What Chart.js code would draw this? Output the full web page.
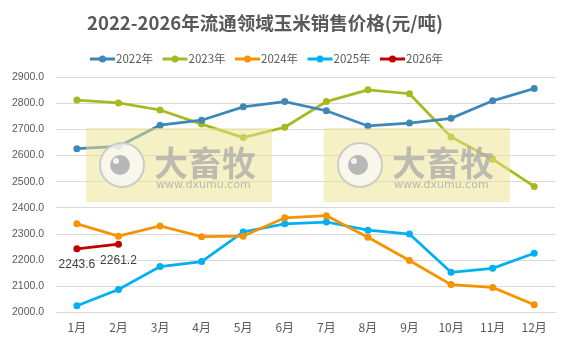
<!DOCTYPE html>
<html>
<head>
<meta charset="utf-8">
<script src="https://cdn.jsdelivr.net/npm/chart.js@4/dist/chart.umd.min.js"></script>
<style>
  html, body { margin: 0; padding: 0; background: #fff; }
  #wrap { width: 574px; height: 338px; }
</style>
</head>
<body>
<div id="wrap"><canvas id="priceChart" width="574" height="338"></canvas></div>
<script>
"use strict";

const months = [`1月`, `2月`, `3月`, `4月`, `5月`, `6月`, `7月`, `8月`, `9月`, `10月`, `11月`, `12月`];
const years = [`2022年`, `2023年`, `2024年`, `2025年`, `2026年`];
const price2022 = [2626, 2635, 2716, 2735, 2786, 2806, 2771, 2713, 2724, 2742, 2809, 2856];
const price2023 = [2812, 2801, 2774, 2720, 2669, 2708, 2806, 2851, 2836, 2671, 2586, 2482];
const price2024 = [2339, 2292, 2331, 2290, 2292, 2362, 2370, 2288, 2199, 2107, 2096, 2030];
const price2025 = [2026, 2088, 2176, 2195, 2308, 2339, 2346, 2315, 2300, 2154, 2169, 2227];
const price2026 = [2243.6, 2261.2];
const yTicks = [2000, 2100, 2200, 2300, 2400, 2500, 2600, 2700, 2800, 2900];

const colors = [`#3E87B7`, `#A8B820`, `#F59300`, `#00B0F0`, `#C00000`];
const series = [price2022, price2023, price2024, price2025, price2026];
const cjkFont = `"Microsoft YaHei", "Noto Sans CJK SC", sans-serif`;
const titleText = `2022-2026年流通领域玉米销售价格(元/吨)`;

// title and legend sit a bit left of centre, so they are painted by hand
const headerPlugin = {
  id: `header`,
  afterDraw(chart) {
    const ctx = chart.ctx;
    ctx.save();
    ctx.fillStyle = `#595959`;
    ctx.font = `bold 18.5px ${cjkFont}`;
    ctx.textAlign = `center`;
    ctx.textBaseline = `middle`;
    ctx.fillText(titleText, 265, 23);

    ctx.font = `11.5px ${cjkFont}`;
    ctx.textAlign = `left`;
    chart.data.datasets.forEach((ds, i) => {
      const x = 90 + i * 72.5;
      const y = 59;
      ctx.strokeStyle = colors[i];
      ctx.lineWidth = 3;
      ctx.beginPath();
      ctx.moveTo(x, y);
      ctx.lineTo(x + 25, y);
      ctx.stroke();
      ctx.fillStyle = colors[i];
      ctx.beginPath();
      ctx.arc(x + 12.5, y, 3.5, 0, Math.PI * 2);
      ctx.fill();
      ctx.fillStyle = `#595959`;
      ctx.fillText(ds.label, x + 26, y);
    });
    ctx.restore();
  }
};

// yellow "大畜牧" stamp laid over the plot
function drawStamp(ctx, x0, y0) {
  ctx.save();
  ctx.fillStyle = `rgba(238, 226, 140, 0.5)`;
  ctx.fillRect(x0, y0, 186, 74);
  const cx = x0 + 36, cy = y0 + 37;
  ctx.fillStyle = `rgba(250, 250, 250, 0.75)`;
  ctx.beginPath();
  ctx.arc(cx, cy, 22, 0, Math.PI * 2);
  ctx.fill();
  ctx.strokeStyle = `rgba(200, 200, 200, 0.9)`;
  ctx.lineWidth = 2;
  ctx.stroke();
  ctx.fillStyle = `rgba(180, 180, 180, 0.95)`;
  ctx.beginPath();
  ctx.arc(cx - 2, cy, 10, 0, Math.PI * 2);
  ctx.fill();
  ctx.fillStyle = `rgba(245, 245, 245, 0.95)`;
  ctx.beginPath();
  ctx.arc(cx - 6, cy - 4, 3, 0, Math.PI * 2);
  ctx.fill();
  ctx.fillStyle = `rgba(170, 170, 170, 0.75)`;
  ctx.font = `bold 34px ${cjkFont}`;
  ctx.textAlign = `left`;
  ctx.textBaseline = `middle`;
  ctx.fillText(`大畜牧`, x0 + 68, y0 + 35);
  ctx.font = `11px "DejaVu Sans", sans-serif`;
  ctx.fillStyle = `rgba(170, 170, 170, 0.8)`;
  ctx.fillText(`www.dxumu.com`, x0 + 70, y0 + 57);
  ctx.restore();
}

const stampPlugin = {
  id: `stamp`,
  afterDatasetsDraw(chart) {
    const ctx = chart.ctx;
    drawStamp(ctx, 86, 128);
    drawStamp(ctx, 324, 128);
  }
};

// value labels under the 2026 points
const valueLabelPlugin = {
  id: `valueLabels`,
  afterDatasetsDraw(chart) {
    const ctx = chart.ctx;
    const meta = chart.getDatasetMeta(4);
    ctx.save();
    ctx.fillStyle = `#404040`;
    ctx.font = `12px "Liberation Sans", Arial, sans-serif`;
    ctx.textAlign = `center`;
    ctx.textBaseline = `middle`;
    meta.data.forEach((pt, i) => {
      ctx.fillText(price2026[i].toFixed(1), pt.x, pt.y + 16);
    });
    ctx.restore();
  }
};

const ctx = document.getElementById(`priceChart`).getContext(`2d`);
const chart = new Chart(ctx, {
  type: `line`,
  data: {
    labels: months,
    datasets: series.map((values, i) => ({
      label: years[i],
      data: values,
      borderColor: colors[i],
      backgroundColor: colors[i],
      borderWidth: 2.75,
      pointRadius: 3.5,
      pointHoverRadius: 3.5,
      pointBorderWidth: 0,
      tension: 0,
      fill: false
    }))
  },
  options: {
    responsive: false,
    animation: false,
    events: [],
    layout: { padding: { left: 0, right: 19, top: 77, bottom: 3 } },
    plugins: {
      title: { display: false },
      legend: { display: false },
      tooltip: { enabled: false }
    },
    scales: {
      x: {
        offset: true,
        grid: { display: false },
        border: { color: `#d9d9d9` },
        ticks: {
          color: `#595959`,
          font: { family: cjkFont, size: 12 },
          padding: 0,
          maxRotation: 0
        }
      },
      y: {
        min: 2000,
        max: 2900,
        afterBuildTicks(axis) {
          axis.ticks = yTicks.map(v => ({ value: v }));
        },
        grid: { color: `#d9d9d9`, drawTicks: false },
        border: { display: false },
        ticks: {
          color: `#595959`,
          font: { family: `"Liberation Sans", Arial, sans-serif`, size: 10.5 },
          padding: 12,
          callback: v => Number(v).toFixed(1)
        }
      }
    }
  },
  plugins: [stampPlugin, valueLabelPlugin, headerPlugin]
});
</script>
</body>
</html>
